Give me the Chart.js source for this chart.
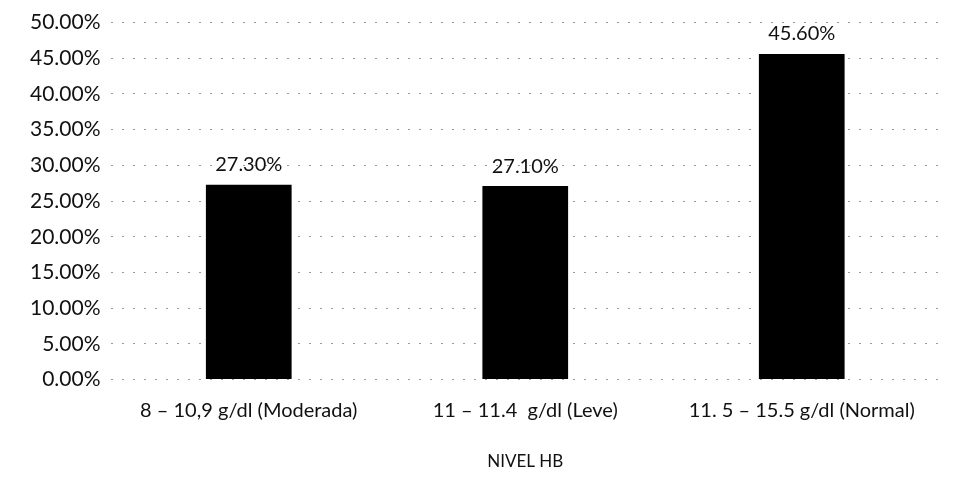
<!DOCTYPE html>
<html>
<head>
<meta charset="utf-8">
<title>Nivel HB</title>
<script src="https://cdn.jsdelivr.net/npm/chart.js@4.4.1/dist/chart.umd.min.js"></script>
<style>
  html, body { margin: 0; padding: 0; background: #fff; }
</style>
</head>
<body>
<canvas id="myChart" width="954" height="484"></canvas>
<script>
// datos del gráfico
const categories = ['8 – 10,9 g/dl (Moderada)', '11 – 11.4  g/dl (Leve)', '11. 5 – 15.5 g/dl (Normal)'];
const values = [27.3, 27.1, 45.6];
const yTicks = [0, 5, 10, 15, 20, 25, 30, 35, 40, 45, 50];
const axisTitle = 'NIVEL HB';

const FONT = 'Lato, "Open Sans", sans-serif';

// etiquetas encima de las barras
const barLabels = {
    id: 'barLabels',
    afterDatasetsDraw(chart) {
        const ctx = chart.ctx;
        const meta = chart.getDatasetMeta(0);
        ctx.save();
        ctx.font = '20px ' + FONT;
        ctx.fillStyle = '#111';
        ctx.textAlign = 'center';
        ctx.textBaseline = 'bottom';
        meta.data.forEach((bar, i) => {
            ctx.fillText(values[i].toFixed(2) + '%', bar.x, bar.y - 10);
        });
        ctx.restore();
    }
};

const ctx = document.getElementById('myChart').getContext('2d');
new Chart(ctx, {
    type: 'bar',
    data: {
        labels: categories,
        datasets: [{
            data: values,
            backgroundColor: '#000',
            borderWidth: 0,
            barPercentage: 0.31,
            categoryPercentage: 1
        }]
    },
    options: {
        responsive: false,
        animation: false,
        layout: { padding: { top: 19, right: 14, bottom: 8, left: 20 } },
        plugins: {
            legend: { display: false },
            tooltip: { enabled: false }
        },
        scales: {
            y: {
                min: 0,
                max: 50,
                afterBuildTicks: axis => { axis.ticks = yTicks.map(v => ({ value: v })); },
                ticks: {
                    color: '#111',
                    font: { family: FONT, size: 21 },
                    padding: 10,
                    callback: v => v.toFixed(2) + '%'
                },
                grid: {
                    color: '#9a9a9a',
                    lineWidth: 1,
                    drawTicks: false
                },
                border: { display: false, dash: [2, 9] }
            },
            x: {
                ticks: {
                    color: '#111',
                    font: { family: FONT, size: 20 },
                    padding: 11
                },
                grid: { display: false },
                border: { display: false },
                title: {
                    display: true,
                    text: axisTitle,
                    color: '#111',
                    font: { family: FONT, size: 17 },
                    padding: { top: 18 }
                }
            }
        }
    },
    plugins: [barLabels]
});
</script>
</body>
</html>
